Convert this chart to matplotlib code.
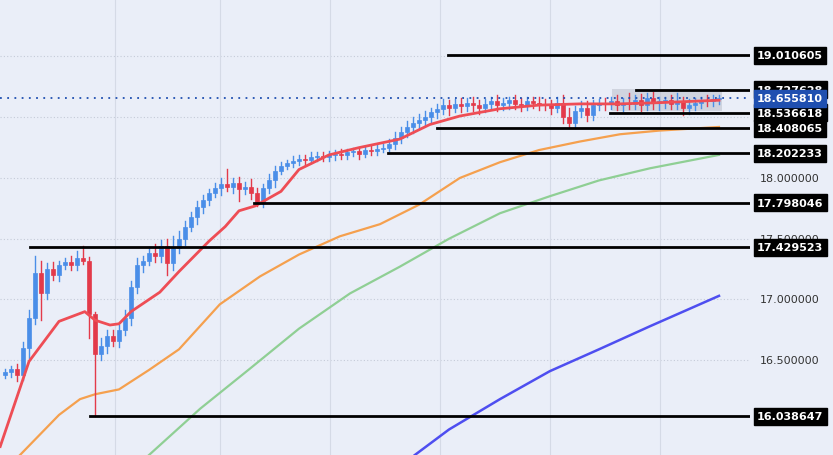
import matplotlib
matplotlib.use("Agg")
import matplotlib.pyplot as plt
import matplotlib.patches as mpatches

closes = [16.40,16.43,16.38,16.60,16.85,17.22,17.05,17.25,17.20,17.28,17.31,17.28,17.34,17.32,16.88,16.55,16.62,16.70,16.66,16.75,
          16.85,17.10,17.28,17.32,17.38,17.36,17.44,17.30,17.42,17.50,17.60,17.68,17.76,17.82,17.88,17.92,17.95,17.93,17.96,17.91,
          17.93,17.88,17.80,17.92,17.98,18.06,18.10,18.12,18.14,18.16,18.15,18.17,18.18,18.17,18.19,18.20,18.19,18.21,18.22,18.20,
          18.23,18.22,18.24,18.25,18.28,18.33,18.38,18.42,18.45,18.48,18.50,18.54,18.57,18.60,18.58,18.61,18.59,18.62,18.60,18.58,
          18.61,18.63,18.60,18.62,18.64,18.61,18.60,18.63,18.62,18.61,18.60,18.58,18.62,18.50,18.45,18.55,18.58,18.52,18.60,18.62,
          18.61,18.63,18.60,18.62,18.61,18.64,18.60,18.66,18.62,18.63,18.64,18.61,18.63,18.58,18.60,18.62,18.64,18.63,18.65,18.656]
open0 = 16.38
upper_wick = [0.03,0.02,0.04,0.05,0.06,0.14,0.10,0.05,0.06,0.04,0.03,0.05,0.06,0.10,0.03,0.02,0.06,0.05,0.05,0.04,
              0.06,0.05,0.06,0.04,0.05,0.08,0.05,0.06,0.10,0.06,0.05,0.04,0.05,0.04,0.03,0.04,0.05,0.12,0.04,0.05,
              0.04,0.06,0.04,0.03,0.05,0.04,0.03,0.03,0.04,0.03,0.03,0.04,0.03,0.03,0.03,0.03,0.04,0.03,0.03,0.03,
              0.03,0.03,0.03,0.03,0.04,0.05,0.04,0.05,0.05,0.05,0.05,0.04,0.04,0.05,0.04,0.04,0.05,0.04,0.05,0.04,
              0.04,0.04,0.05,0.04,0.03,0.04,0.05,0.04,0.04,0.05,0.04,0.04,0.05,0.06,0.08,0.04,0.05,0.05,0.04,0.03,
              0.04,0.04,0.05,0.04,0.08,0.04,0.05,0.04,0.05,0.04,0.03,0.04,0.07,0.04,0.05,0.04,0.03,0.04,0.03,0.03]
lower_wick = [0.03,0.04,0.05,0.04,0.08,0.05,0.22,0.05,0.04,0.05,0.03,0.04,0.04,0.03,0.20,0.51,0.05,0.06,0.04,0.05,
              0.04,0.06,0.05,0.05,0.04,0.05,0.05,0.10,0.06,0.04,0.05,0.04,0.06,0.05,0.04,0.04,0.06,0.04,0.05,0.10,
              0.04,0.05,0.03,0.04,0.04,0.05,0.03,0.03,0.03,0.03,0.04,0.03,0.03,0.03,0.03,0.04,0.03,0.03,0.03,0.04,
              0.03,0.03,0.03,0.03,0.03,0.04,0.04,0.04,0.05,0.04,0.04,0.05,0.05,0.04,0.06,0.04,0.05,0.04,0.05,0.05,
              0.04,0.04,0.05,0.04,0.05,0.04,0.05,0.04,0.04,0.05,0.04,0.05,0.04,0.05,0.04,0.04,0.05,0.05,0.04,0.04,
              0.05,0.04,0.04,0.05,0.04,0.04,0.05,0.04,0.05,0.06,0.05,0.04,0.04,0.06,0.05,0.04,0.04,0.04,0.04,0.04]

# moving averages sampled at (candle index, price)
ma_red_x = [-0.8,4,9,13.3,15,17.5,19,21,25.8,29,34,36.7,39,41.7,46,49,54,59,65.8,70.8,75.8,82.5,89,95.8,102.5,109,119]
ma_red_y = [15.79,16.49,16.82,16.90,16.83,16.79,16.80,16.90,17.06,17.23,17.48,17.60,17.73,17.77,17.89,18.07,18.19,18.25,18.32,18.44,18.51,18.57,18.60,18.61,18.61,18.62,18.64]
ma_or_x = [2.5,9,12.5,15,19,24,29,35.8,42.5,49,55.8,62.5,69,75.8,82.5,89,95.8,102.5,109,119]
ma_or_y = [15.72,16.05,16.18,16.22,16.26,16.42,16.59,16.96,17.19,17.37,17.52,17.62,17.78,18.00,18.13,18.23,18.30,18.36,18.39,18.42]
ma_gr_x = [24,32.5,40.8,49,57.5,65.8,74,82.5,90.8,99,107.5,119]
ma_gr_y = [15.72,16.10,16.43,16.76,17.05,17.27,17.50,17.71,17.85,17.98,18.08,18.19]
ma_bl_x = [68.3,74,82.5,90.8,99,107.5,119]
ma_bl_y = [15.72,15.93,16.18,16.41,16.59,16.78,17.03]
levels = [19.010605,18.727628,18.536618,18.408065,18.202233,17.798046,17.429523,16.038647]
level_start = [73.8,105.2,100.8,72,63.8,41.5,4.2,14.2]
last_price = 18.655810
ticks = [16.5,17.0,17.5,18.0,18.5,19.0,19.5]

W, H = 833, 456
bg = "#eaeef8"
fig = plt.figure(figsize=(W/100, H/100), dpi=100)
fig.patch.set_facecolor(bg)
ax = fig.add_axes([0, 0, 750/W, 1])
ax.set_facecolor(bg)
px = lambda p: (p - 5) / 6
ax.set_xlim(px(0), px(750))
ylo = 18 - (456 - 179) / 121.5
yhi = 18 + 179 / 121.5
ax.set_ylim(ylo, yhi)
for s in ax.spines.values():
    s.set_visible(False)
ax.set_xticks([]); ax.set_yticks([])
for t in ticks:
    ax.axhline(t, color="#c5cbd8", lw=0.8, ls=(0, (1, 2)), zorder=0)
for gx in [115, 220, 330, 440, 550, 660]:
    ax.axvline(px(gx), color="#d5dae6", lw=0.8, zorder=0)

up_c, dn_c = "#4a8ee8", "#e33a4a"
prev = open0
for i, c in enumerate(closes):
    o = prev
    col = up_c if c >= o else dn_c
    hi = max(o, c) + upper_wick[i]
    lo = min(o, c) - lower_wick[i]
    ax.plot([i, i], [lo, hi], color=col, lw=1, zorder=3)
    ax.add_patch(mpatches.Rectangle((i - 0.3, min(o, c)), 0.6, max(abs(c - o), 0.008),
                                    facecolor=col, edgecolor=col, lw=0.5, zorder=4))
    prev = c

ax.plot(ma_red_x, ma_red_y, color="#ee4d55", lw=2, zorder=5)
ax.plot(ma_or_x, ma_or_y, color="#f5a04e", lw=1.6, zorder=2)
ax.plot(ma_gr_x, ma_gr_y, color="#8fcf94", lw=1.6, zorder=2)
ax.plot(ma_bl_x, ma_bl_y, color="#4e4ef0", lw=1.8, zorder=2)

ax.add_patch(mpatches.Rectangle((px(612), 18 - (112 - 179) / 121.5), px(722) - px(612), 22 / 121.5,
                                facecolor="#b8bcc8", alpha=0.5, edgecolor="none", zorder=1))
ax.axhline(last_price, color="#1f4fb0", lw=1.3, ls=(0, (1, 3)), zorder=6)
for lv, st in zip(levels, level_start):
    ax.plot([st, px(750)], [lv, lv], color="black", lw=2, zorder=7)

def yfig(p):
    return (p - ylo) / (yhi - ylo)
for t in ticks:
    fig.text(760 / W, yfig(t), f"{t:.6f}", fontsize=8, color="#333333", va="center", ha="left", zorder=1)
for lv in levels:
    fig.text(757 / W, yfig(lv), f"{lv:.6f}", fontsize=8, color="white", weight="bold", va="center", ha="left", zorder=2,
             bbox=dict(boxstyle="square,pad=0.3", fc="black", ec="black"))
fig.text(757 / W, yfig(last_price), f"{last_price:.6f}", fontsize=8, color="white", weight="bold", va="center", ha="left", zorder=3,
         bbox=dict(boxstyle="square,pad=0.3", fc="#1f4fb0", ec="#1f4fb0"))
fig.savefig("out.png", dpi=100, facecolor=bg)
